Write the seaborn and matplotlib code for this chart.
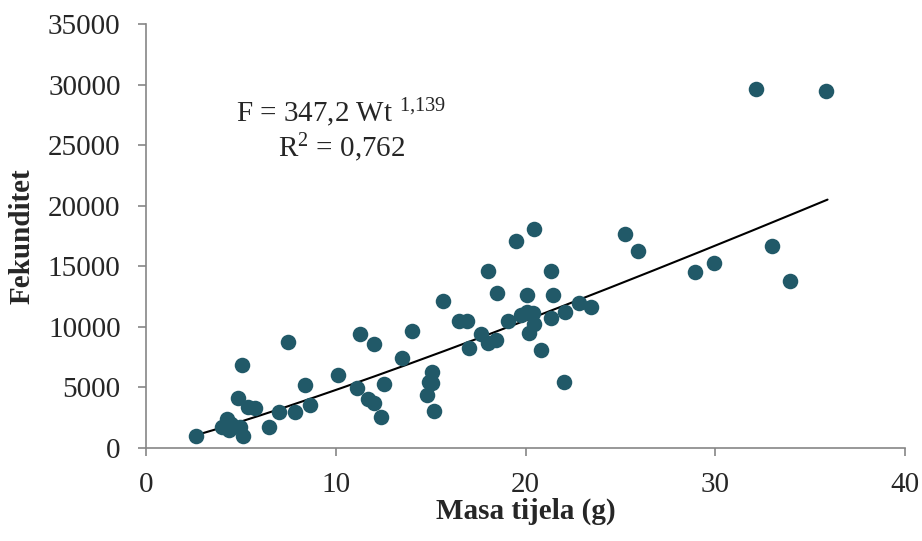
import numpy as np
import pandas as pd
import matplotlib
matplotlib.use("Agg")
import matplotlib.pyplot as plt
import seaborn as sns

# Data
masa = [2.64, 4.0, 4.3, 4.4, 4.5, 4.85, 4.95, 5.06, 5.1, 5.4, 5.75, 6.5, 7.0, 7.5, 7.85,
        8.4, 8.65, 10.1, 11.1, 11.3, 11.7, 12.0, 12.0, 12.4, 12.55, 13.5, 14.0, 14.8, 14.9,
        15.1, 15.1, 15.2, 15.65, 16.5, 16.9, 17.0, 17.65, 18.0, 18.0, 18.45, 18.5, 19.1,
        19.5, 19.75, 20.1, 20.1, 20.2, 20.4, 20.45, 20.45, 20.8, 21.35, 21.35, 21.45, 22.0,
        22.1, 22.8, 23.45, 25.25, 25.9, 28.9, 29.9, 32.15, 32.95, 33.9, 35.8]
fekunditet = [950, 1700, 2350, 1500, 2000, 4150, 1700, 6850, 1000, 3400, 3300, 1750, 3000,
              8750, 2950, 5200, 3550, 6050, 4950, 9400, 4050, 3700, 8600, 2550, 5300, 7450,
              9650, 4400, 5450, 6300, 5400, 3050, 12100, 10450, 10500, 8250, 9400, 14600,
              8700, 8950, 12800, 10500, 17050, 10950, 11200, 12650, 9450, 11150, 18100, 10200,
              8100, 10750, 14650, 12650, 5450, 11200, 12000, 11650, 17700, 16300, 14550, 15300,
              29650, 16650, 13800, 29500]

# Power fit F = a * Wt^b
fit_a = 347.2
fit_b = 1.139
fit_xmin, fit_xmax = 2.7, 35.9

xticks = [0, 10, 20, 30, 40]
yticks = [0, 5000, 10000, 15000, 20000, 25000, 30000, 35000]

sns.set_theme(style="white")
plt.rcParams['font.family'] = ['Liberation Serif', 'DejaVu Serif']
plt.rcParams['mathtext.fontset'] = 'custom'
plt.rcParams['mathtext.rm'] = 'Liberation Serif'
plt.rcParams['mathtext.it'] = 'Liberation Serif:italic'
plt.rcParams['mathtext.bf'] = 'Liberation Serif:bold'

df = pd.DataFrame({"Masa": masa, "Fekunditet": fekunditet})

fig = plt.figure(figsize=(9.22, 5.41), dpi=100)
ax = fig.add_axes([0.158, 0.172, 0.824, 0.7836])

sns.scatterplot(data=df, x="Masa", y="Fekunditet", ax=ax, color="#215968",
                s=125, linewidth=0, zorder=3)

xf = np.linspace(fit_xmin, fit_xmax, 200)
ax.plot(xf, fit_a * xf ** fit_b, color="black", lw=1.5, zorder=2)

ax.set_xlim(0, 40)
ax.set_ylim(0, 35000)
ax.set_xticks(xticks)
ax.set_yticks(yticks)
ax.tick_params(axis='both', labelsize=21, direction='out', length=6, width=1.2,
               color='#868686')
ax.tick_params(axis='x', bottom=True, pad=11)
ax.tick_params(axis='y', left=True, pad=12)
for s in ['top', 'right']:
    ax.spines[s].set_visible(False)
for s in ['left', 'bottom']:
    ax.spines[s].set_color('#868686')
    ax.spines[s].set_linewidth(1.2)

ax.set_xlabel("Masa tijela (g)", fontsize=21, fontweight='bold', va='center')
ax.set_ylabel("Fekunditet", fontsize=21, fontweight='bold', va='center')
ax.xaxis.set_label_coords(0.5, -0.150)
ax.yaxis.set_label_coords(-0.163, 0.5)

ax.text(10.3, 27650, r"F = 347,2 Wt $^{1{,}139}$", fontsize=21, ha='center', va='center')
ax.text(10.3, 24800, r"R$^{2}$ = 0,762", fontsize=21, ha='center', va='center')

fig.savefig("out.png", dpi=100)
